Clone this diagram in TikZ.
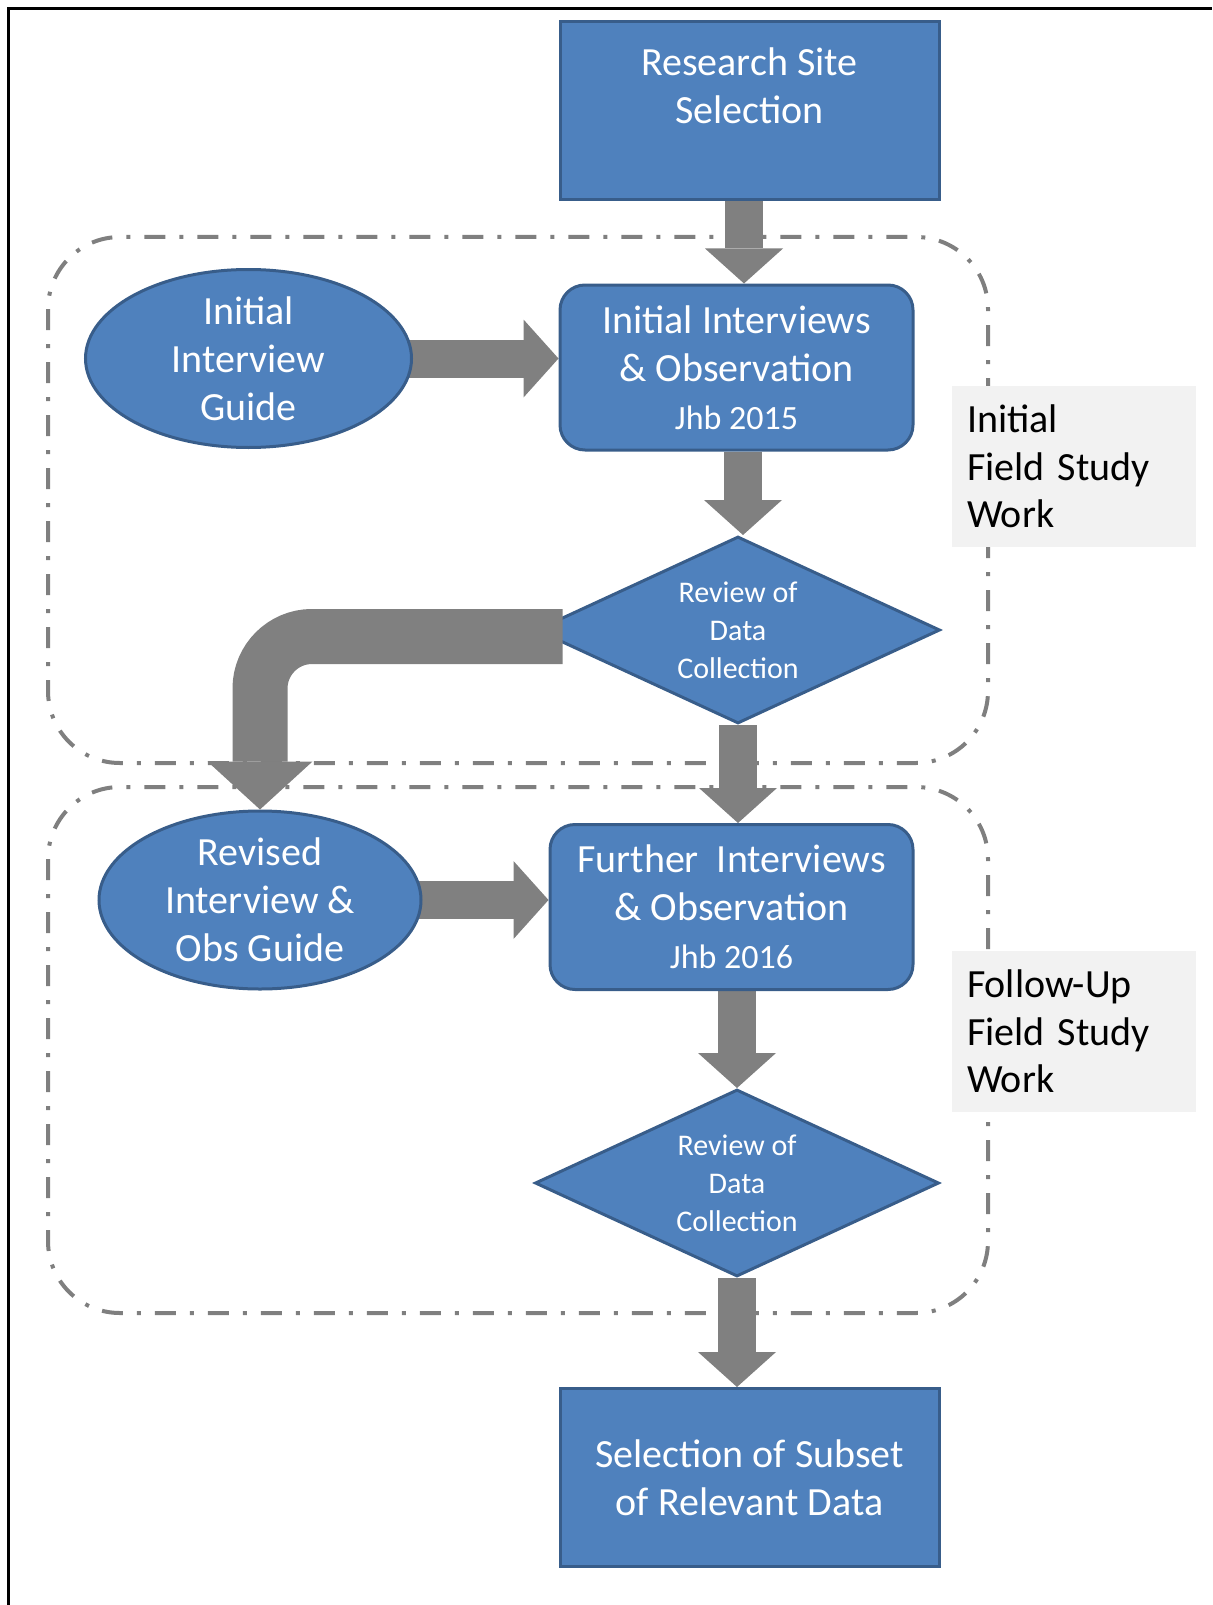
\documentclass[tikz,border=0pt]{standalone}
\usepackage{fontspec}
\setmainfont{Carlito}
\usetikzlibrary{arrows.meta,shapes.geometric,calc}

\definecolor{boxblue}{HTML}{4F81BD}
\definecolor{boxedge}{HTML}{385D8A}
\definecolor{arrowgray}{HTML}{808080}
\definecolor{framegray}{HTML}{7F7F7F}
\definecolor{notefill}{HTML}{F2F2F2}

\pgfdeclarelayer{groups}
\pgfdeclarelayer{links}
\pgfsetlayers{groups,links,main}

\tikzset{
  flow/.style={fill=boxblue, draw=boxedge, line width=3pt, text=white,
    align=center, inner sep=0pt, font=\fontsize{40}{48}\selectfont},
  stepbox/.style={flow, rectangle, minimum width=379pt, minimum height=178pt},
  roundbox/.style={flow, rectangle, rounded corners=25pt,
    minimum width=353pt, minimum height=165pt},
  guide/.style={flow, ellipse, inner sep=-12pt,
    minimum width=326pt, minimum height=178pt},
  review/.style={flow, diamond, aspect=2.16, minimum width=404pt,
    minimum height=187pt, font=\fontsize{30}{38}\selectfont},
  boxtext/.style={text=white, align=center, inner sep=0pt,
    font=\fontsize{40}{48}\selectfont},
  note/.style={fill=notefill, draw=none, rectangle, minimum width=244pt,
    minimum height=161pt, text width=214pt, inner xsep=15pt, inner ysep=0pt,
    align=left, font=\fontsize{40}{47.5}\selectfont},
  blockarrow/.style={draw=arrowgray, line width=38pt,
    -{Triangle[width=78pt, length=35pt, line width=0pt]}},
  looparrow/.style={draw=arrowgray, line width=55pt, rounded corners=52pt,
    -{Triangle[width=105pt, length=48pt, line width=0pt]}},
  groupframe/.style={draw=framegray, line width=4pt, rounded corners=72pt,
    dash pattern=on 21pt off 14pt on 4pt off 14pt},
}

\begin{document}
\begin{tikzpicture}[x=1pt, y=-1pt]
\useasboundingbox (0,0) rectangle (1212,1605);

% outer frame (top and left edges)
\draw[line width=2.5pt] (8.5,1605) -- (8.5,8.5) -- (1212,8.5);

% study phase groupings
\begin{pgfonlayer}{groups}
  \draw[groupframe] (48,237) rectangle (988,763);
  \draw[groupframe] (48,787) rectangle (988,1313);
\end{pgfonlayer}

% phase labels
\node[note] (n1) at (1074,466.5) {Initial\\Field Study\\Work};
\node[note] (n2) at (1074,1031.5) {Follow-Up\\Field Study\\Work};

% process steps
\node[stepbox] (rs) at (749.5,111) {};
\node[boxtext] (rstext) at (749.5,85.5) {Research Site\\Selection};
\node[roundbox] (ii) at (736.5,367.5)
  {Initial Interviews\\\& Observation\\{\fontsize{34}{48}\selectfont Jhb 2015}};
\node[guide] (ig) at (248.5,358.5) {Initial\\Interview\\Guide};
\node[review] (d1) at (738,630) {Review of\\Data\\Collection};
\node[roundbox, minimum width=363pt] (fi) at (731.5,907)
  {Further\ \ Interviews\\\& Observation\\{\fontsize{34}{48}\selectfont Jhb 2016}};
\node[guide, minimum width=322pt] (rev) at (260,900) {Revised\\Interview~\&\\Obs Guide};
\node[review] (d2) at (737,1183) {Review of\\Data\\Collection};
\node[stepbox] (sel) at (749.5,1477.5) {Selection of Subset\\of Relevant Data};

% connector start points
\coordinate (a1) at ([xshift=-5.5pt]rs.south);
\coordinate (a2) at ([xshift=6.5pt]ii.south);
\coordinate (a3) at (d1.south);
\coordinate (a4) at ([xshift=5.5pt]fi.south);
\coordinate (a5) at (d2.south);

\begin{pgfonlayer}{links}
  \draw[blockarrow] (a1) -- (a1 |- ii.north);
  \draw[blockarrow] (ig.center) -- (ig.center -| ii.west);
  \draw[blockarrow] (a2) -- (a2 |- d1.north);
  \draw[blockarrow] (a3) -- (a3 |- fi.north);
  \draw[blockarrow] (rev.center) -- (rev.center -| fi.west);
  \draw[blockarrow] (a4) -- (a4 |- d2.north);
  \draw[blockarrow] (a5) -- (a5 |- sel.north);
\end{pgfonlayer}

% loop back from the first review to the revised guide
\coordinate (loopstart) at ($(d1.west)+(28,6.5)$);
\draw[looparrow] (loopstart) -| (rev.north);

\end{tikzpicture}
\end{document}
